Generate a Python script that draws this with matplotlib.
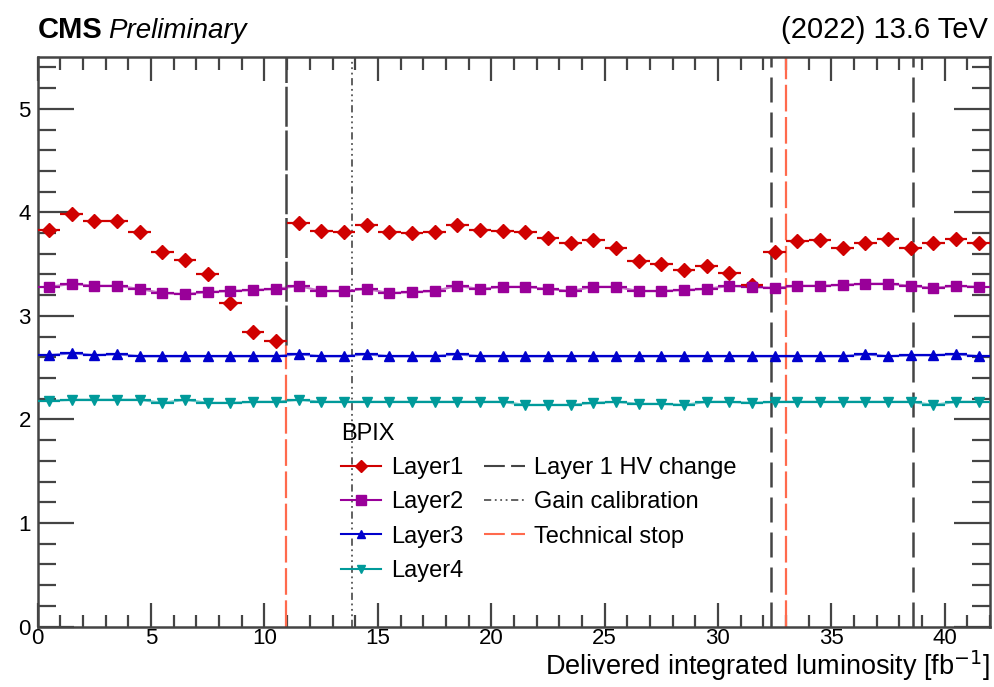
import numpy as np
import matplotlib
matplotlib.use("Agg")
import matplotlib.pyplot as plt
from matplotlib.lines import Line2D
from matplotlib.ticker import MultipleLocator

plt.rcParams["font.family"] = ["Liberation Sans", "DejaVu Sans"]

# luminosity bin centres [fb^-1], bin width 1
lumi = [0.5, 1.5, 2.5, 3.5, 4.5, 5.5, 6.5, 7.5, 8.5, 9.5, 10.5,
        11.5, 12.5, 13.5, 14.5, 15.5, 16.5, 17.5, 18.5, 19.5, 20.5,
        21.5, 22.5, 23.5, 24.5, 25.5, 26.5, 27.5, 28.5, 29.5, 30.5,
        31.5, 32.5, 33.5, 34.5, 35.5, 36.5, 37.5, 38.5, 39.5, 40.5, 41.5]

layer1 = [3.83, 3.98, 3.92, 3.92, 3.81, 3.62, 3.54, 3.40, 3.12, 2.84, 2.76,
          3.90, 3.82, 3.81, 3.88, 3.81, 3.80, 3.81, 3.88, 3.83, 3.82,
          3.81, 3.75, 3.70, 3.73, 3.66, 3.53, 3.50, 3.44, 3.48, 3.41, 3.30,
          3.62, 3.72, 3.73, 3.66, 3.70, 3.74, 3.66, 3.70, 3.74, 3.70]
layer2 = [3.28, 3.31, 3.29, 3.29, 3.26, 3.22, 3.21, 3.23, 3.24, 3.25, 3.26,
          3.29, 3.24, 3.24, 3.26, 3.22, 3.23, 3.24, 3.29, 3.26, 3.28,
          3.28, 3.26, 3.24, 3.28, 3.28, 3.24, 3.24, 3.25, 3.26, 3.29, 3.28,
          3.27, 3.29, 3.29, 3.30, 3.31, 3.31, 3.29, 3.27, 3.29, 3.28]
layer3 = [2.62, 2.64, 2.62, 2.63, 2.61, 2.61, 2.61, 2.61, 2.61, 2.61, 2.61,
          2.63, 2.61, 2.61, 2.63, 2.61, 2.61, 2.61, 2.63, 2.61, 2.61,
          2.61, 2.61, 2.61, 2.61, 2.61, 2.61, 2.61, 2.61, 2.61, 2.61, 2.61,
          2.61, 2.61, 2.61, 2.61, 2.63, 2.61, 2.62, 2.62, 2.63, 2.61]
layer4 = [2.18, 2.19, 2.19, 2.19, 2.19, 2.16, 2.19, 2.16, 2.16, 2.17, 2.17,
          2.19, 2.17, 2.17, 2.17, 2.17, 2.17, 2.17, 2.17, 2.17, 2.17,
          2.14, 2.14, 2.14, 2.16, 2.17, 2.15, 2.15, 2.14, 2.17, 2.17, 2.16,
          2.17, 2.17, 2.17, 2.17, 2.17, 2.17, 2.17, 2.14, 2.17, 2.17]

layer_names = ["Layer1", "Layer2", "Layer3", "Layer4"]
hv_change = [10.95, 32.35, 38.62]
gain_calib = [13.85]
tech_stop = [10.95, 33.0]

colors = ["#d00000", "#990099", "#0000cc", "#009a9a"]
markers = ["D", "s", "^", "v"]
msizes = [7.5, 7.5, 6.5, 6.5]

fig = plt.figure(figsize=(9.94, 6.87), dpi=100)
ax = fig.add_axes([0.038, 0.088, 0.958, 0.829])

for i, y in enumerate([layer1, layer2, layer3, layer4]):
    if i > 0:
        ax.plot(lumi, y, "-", color=colors[i], alpha=0.55, lw=1.6, zorder=3)
    ax.errorbar(lumi, y, xerr=0.5, fmt=markers[i], color=colors[i], ms=msizes[i],
                ecolor=colors[i], elinewidth=1.6, capsize=0, zorder=4)

# vertical lines
ax.plot([tech_stop[0]] * 2, [0, 2.72], color="#ff6a4d", lw=1.6, dashes=(12, 2.5), zorder=2)
ax.plot([hv_change[0]] * 2, [2.72, 5.5], color="#444444", lw=1.8, dashes=(16, 1.5), zorder=2)
for xv in hv_change[1:]:
    ax.axvline(xv, color="#444444", lw=1.8, dashes=(10, 4), zorder=2)
for xv in gain_calib:
    ax.axvline(xv, color="#555555", lw=1.3, dashes=(4, 2, 1, 2, 1, 2, 1, 2), zorder=2)
ax.axvline(tech_stop[1], color="#ff6a4d", lw=1.6, dashes=(12, 2.5), zorder=2)

ax.set_xlim(0, 42)
ax.set_ylim(0, 5.5)
ax.xaxis.set_major_locator(MultipleLocator(5))
ax.xaxis.set_minor_locator(MultipleLocator(1))
ax.yaxis.set_major_locator(MultipleLocator(1))
ax.yaxis.set_minor_locator(MultipleLocator(0.2))
ax.tick_params(which="both", direction="in", top=True, right=True, width=1.6,
               color="#444444", labelsize=16, pad=1)
ax.tick_params(axis="x", which="major", length=17)
ax.tick_params(axis="x", which="minor", length=9)
ax.tick_params(axis="y", which="major", length=26)
ax.tick_params(axis="y", which="minor", length=13)
ax.tick_params(axis="y", pad=5)
for s in ax.spines.values():
    s.set_linewidth(1.8)
    s.set_color("#444444")

ax.set_xlabel("Delivered integrated luminosity [fb$^{-1}$]", fontsize=19.5, loc="right", labelpad=-0.5)

fig.text(0.038, 0.945, "CMS", fontsize=21, fontweight="bold", va="baseline")
fig.text(0.109, 0.945, "Preliminary", fontsize=20, style="italic", va="baseline")
fig.text(0.994, 0.945, "(2022) 13.6 TeV", fontsize=21, ha="right", va="baseline")

# legend
handles = []
for i in range(4):
    handles.append(Line2D([], [], color=colors[i], marker=markers[i], ms=msizes[i] - 1,
                          lw=1.5, label=layer_names[i]))
handles.append(Line2D([], [], color="#444444", lw=1.5, dashes=(10, 3), label="Layer 1 HV change"))
handles.append(Line2D([], [], color="#555555", lw=1.3, dashes=(4, 2, 1, 2, 1, 2, 1, 2), label="Gain calibration"))
handles.append(Line2D([], [], color="#ff6a4d", lw=1.5, dashes=(10, 3), label="Technical stop"))
leg = ax.legend(handles=handles, ncol=2, title="BPIX", loc="upper left",
                bbox_to_anchor=(0.296, 0.395), frameon=False, fontsize=17,
                title_fontsize=17, handlelength=1.7, handletextpad=0.42,
                labelspacing=0.52, columnspacing=0.9, alignment="left")

fig.savefig("out.png", dpi=100)
